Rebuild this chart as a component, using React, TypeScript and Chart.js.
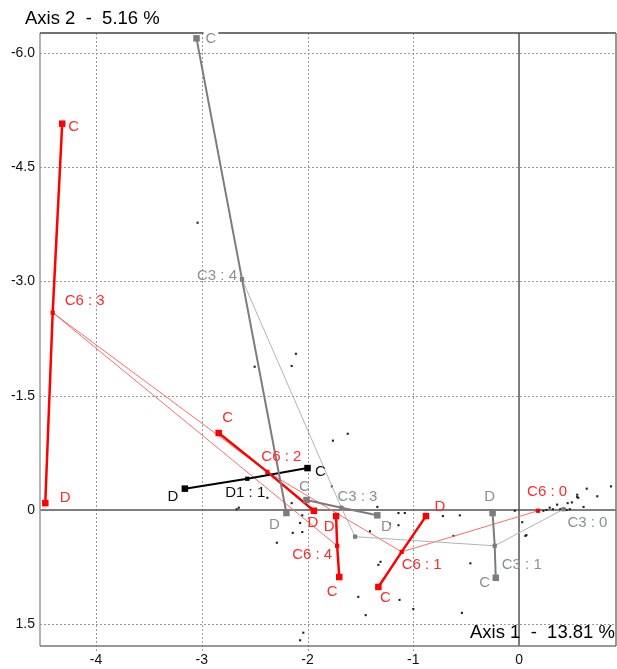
import React, { useEffect, useRef } from 'react';
import { Chart, registerables } from 'chart.js';

Chart.register(...registerables);

// ---------- axes ----------
const xTickValues = [-4, -3, -2, -1, 0];
const xTickLabels = ['-4', '-3', '-2', '-1', '0'];
const yTickValues = [-6, -4.5, -3, -1.5, 0, 1.5];
const yTickLabels = ['-6.0', '-4.5', '-3.0', '-1.5', '0', '1.5'];
const xMin = -4.53;
const xMax = 0.917;
const yMin = -6.26;
const yMax = 1.785;
const axis1Title = 'Axis 1  -  13.81 %';
const axis2Title = 'Axis 2  -  5.16 %';

// ---------- variable C3 ----------
const c3Categories = ['C3 : 0', 'C3 : 1', 'C3 : 2', 'C3 : 3', 'C3 : 4'];
const c3X = [0.42, -0.23, -1.55, -1.68, -2.62];
const c3Y = [-0.01, 0.47, 0.35, -0.03, -3.03];
const c3CX = [null, -0.22, null, -2.01, -3.05];
const c3CY = [null, 0.89, null, -0.13, -6.19];
const c3DX = [null, -0.25, null, -1.34, -2.2];
const c3DY = [null, 0.04, null, 0.07, 0.04];

// ---------- variable C6 ----------
const c6Categories = ['C6 : 0', 'C6 : 1', 'C6 : 2', 'C6 : 3', 'C6 : 4'];
const c6X = [0.18, -1.11, -2.38, -4.41, -1.72];
const c6Y = [0.01, 0.55, -0.5, -2.59, 0.47];
const c6CX = [null, -1.33, -2.84, -4.32, -1.7];
const c6CY = [null, 1.01, -1.01, -5.07, 0.88];
const c6DX = [null, -0.88, -1.94, -4.48, -1.73];
const c6DY = [null, 0.08, 0.01, -0.09, 0.08];

// ---------- variable D1 ----------
const d1Categories = ['D1 : 1'];
const d1X = [-2.57];
const d1Y = [-0.41];
const d1CX = [-2.0];
const d1CY = [-0.55];
const d1DX = [-3.16];
const d1DY = [-0.28];

const endLabelC = 'C';
const endLabelD = 'D';

// ---------- individuals ----------
const indX = [-1.62, -1.76, -1.77, -1.34, -1.14, -1.08, -1.22, -1.14, -1.41, -1.31, -1.33, -1.52, -1.13, -1.0, -1.45, -0.54, -0.46, -0.56, -0.72, -0.62, 0.07, 0.87, 0.74, 0.61, 0.55, -2.07, -2.04, -2.14, -2.07, -2.15, -2.29, -2.05, -2.05, -2.38, -2.67, -2.65, -3.04, -2.5, -2.15, -2.11, 0.64, 0.55, 0.56, 0.5, 0.46, 0.36, 0.29, 0.32, 0.39, 0.43, 0.26, 0.23, 0.45, 0.48, -0.04, 0.03, 0.06];
const indY = [-1.0, -0.91, -0.31, -0.04, 0.04, 0.04, 0.18, 0.2, 0.28, 0.68, 0.72, 1.14, 1.18, 1.3, 1.38, 1.35, 0.7, 0.07, 0.08, 0.34, 0.33, -0.31, -0.18, -0.04, -0.17, 1.71, 1.61, 0.3, 0.17, -0.09, 0.43, 0.29, 0.07, -0.16, -0.01, -0.03, -3.77, -1.88, -1.89, -2.05, -0.28, -0.2, -0.16, -0.1, -0.09, -0.07, -0.03, -0.01, -0.01, -0.01, 0.0, 0.01, 0.0, -0.01, 0.01, 0.16, 0.34];

// ---------- styles ----------
const RED = '#ff0000';
const RED_TEXT = '#ff2a2a';
const RED_THIN = '#ff6a6a';
const GRAY = '#7c7c7c';
const GRAY_TEXT = '#8a9099';
const GRAY_THIN = '#b3b3b3';
const BLACK = '#000000';
const FONT = '"Liberation Sans", Arial, sans-serif';

// label placement: [dx, dy, align]
const labelPlacement: Record<string, [number, number, CanvasTextAlign]> = {
  'C3 : 0': [4, 14, 'left'],
  'C3 : 1': [7, 19, 'left'],
  'C3 : 1|C': [-11, 5, 'center'],
  'C3 : 1|D': [-3, -16, 'center'],
  'C3 : 3': [-4, -11, 'left'],
  'C3 : 3|C': [-2, -13, 'center'],
  'C3 : 3|D': [9, 12, 'center'],
  'C3 : 4': [-5, -3, 'right'],
  'C3 : 4|C': [9, 1, 'left'],
  'C3 : 4|D': [-12, 12, 'center'],
  'C6 : 0': [9, -19, 'center'],
  'C6 : 1': [0, 13, 'left'],
  'C6 : 1|C': [7, 11, 'center'],
  'C6 : 1|D': [14, -9, 'center'],
  'C6 : 2': [-6, -15, 'left'],
  'C6 : 2|C': [9, -15, 'center'],
  'C6 : 2|D': [-1, 12, 'center'],
  'C6 : 3': [12, -12, 'left'],
  'C6 : 3|C': [6, 3, 'left'],
  'C6 : 3|D': [20, -5, 'center'],
  'C6 : 4': [-5, 9, 'right'],
  'C6 : 4|C': [-7, 15, 'center'],
  'C6 : 4|D': [-7, 11, 'center'],
  'D1 : 1': [-22, 14, 'left'],
  'D1 : 1|C': [13, 4, 'center'],
  'D1 : 1|D': [-12, 8, 'center'],
};
const hiddenLabels = new Set(['C3 : 2']);
const whiteBackedLabels = new Set(['C3 : 4|C']);

type LabelItem = { text: string; key: string; x: number; y: number; color: string };

function buildVariable(
  cats: string[], xs: number[], ys: number[],
  cx: (number | null)[], cy: (number | null)[], dx: (number | null)[], dy: (number | null)[],
  color: string, thin: string | null, textColor: string, width: number,
  datasets: any[], labels: LabelItem[]
) {
  if (thin) {
    datasets.push({
      data: xs.map((x, i) => ({ x, y: ys[i] })),
      showLine: true,
      borderColor: thin,
      borderWidth: 1,
      pointRadius: 0,
      order: 5,
    });
  }
  cats.forEach((cat, i) => {
    const pts: any[] = [];
    const radii: number[] = [];
    if (cx[i] !== null && cy[i] !== null) {
      pts.push({ x: cx[i], y: cy[i] });
      radii.push(4.6);
      labels.push({ text: endLabelC, key: cat + '|C', x: cx[i] as number, y: cy[i] as number, color: textColor });
    }
    pts.push({ x: xs[i], y: ys[i] });
    radii.push(3);
    if (!hiddenLabels.has(cat)) labels.push({ text: cat, key: cat, x: xs[i], y: ys[i], color: textColor });
    if (dx[i] !== null && dy[i] !== null) {
      pts.push({ x: dx[i], y: dy[i] });
      radii.push(4.6);
      labels.push({ text: endLabelD, key: cat + '|D', x: dx[i] as number, y: dy[i] as number, color: textColor });
    }
    datasets.push({
      data: pts,
      showLine: pts.length > 1,
      borderColor: color,
      backgroundColor: color,
      borderWidth: width,
      pointStyle: 'rect',
      pointRadius: radii,
      pointBorderWidth: 0,
      pointBackgroundColor: color,
      order: 1,
    });
  });
}

export default function App() {
  const canvasRef = useRef<HTMLCanvasElement | null>(null);

  useEffect(() => {
    if (!canvasRef.current) return;
    const datasets: any[] = [];
    const labels: LabelItem[] = [];

    datasets.push({
      data: indX.map((x, i) => ({ x, y: indY[i] })),
      pointStyle: 'rect',
      pointRadius: 1.5,
      pointBorderWidth: 0,
      pointBackgroundColor: '#222',
      showLine: false,
      order: 8,
    });

    buildVariable(c3Categories, c3X, c3Y, c3CX, c3CY, c3DX, c3DY, GRAY, GRAY_THIN, GRAY_TEXT, 2, datasets, labels);
    buildVariable(c6Categories, c6X, c6Y, c6CX, c6CY, c6DX, c6DY, RED, RED_THIN, RED_TEXT, 2.5, datasets, labels);
    buildVariable(d1Categories, d1X, d1Y, d1CX, d1CY, d1DX, d1DY, BLACK, null, '#111', 2, datasets, labels);

    const gridPlugin = {
      id: 'gridFrame',
      beforeDatasetsDraw(chart: any) {
        const { ctx, chartArea: a, scales } = chart;
        const xs = scales.x, ys = scales.y;
        ctx.save();
        ctx.lineWidth = 1;
        ctx.strokeStyle = '#9a9a9a';
        ctx.setLineDash([2, 2]);
        xTickValues.forEach((v) => {
          if (v === 0) return;
          const px = Math.round(xs.getPixelForValue(v)) + 0.5;
          ctx.beginPath();
          ctx.moveTo(px, a.top);
          ctx.lineTo(px, a.bottom + 5);
          ctx.stroke();
        });
        yTickValues.forEach((v) => {
          if (v === 0) return;
          const py = Math.round(ys.getPixelForValue(v)) + 0.5;
          ctx.beginPath();
          ctx.moveTo(a.left, py);
          ctx.lineTo(a.right, py);
          ctx.stroke();
        });
        ctx.setLineDash([]);
        // zero lines
        ctx.strokeStyle = '#555';
        ctx.lineWidth = 1.5;
        const x0 = xs.getPixelForValue(0);
        const y0 = ys.getPixelForValue(0);
        ctx.beginPath();
        ctx.moveTo(x0, a.top);
        ctx.lineTo(x0, a.bottom);
        ctx.moveTo(a.left, y0);
        ctx.lineTo(a.right, y0);
        ctx.stroke();
        // frame
        ctx.lineWidth = 1.5;
        ctx.strokeStyle = '#9a9a9a';
        ctx.beginPath();
        ctx.moveTo(a.left, a.top);
        ctx.lineTo(a.left, a.bottom);
        ctx.stroke();
        ctx.strokeStyle = '#444';
        ctx.beginPath();
        ctx.moveTo(a.left, a.top);
        ctx.lineTo(a.right, a.top);
        ctx.stroke();
        ctx.strokeStyle = '#777';
        ctx.beginPath();
        ctx.moveTo(a.left, a.bottom);
        ctx.lineTo(a.right, a.bottom);
        ctx.moveTo(a.right, a.top);
        ctx.lineTo(a.right, a.bottom);
        ctx.stroke();
        ctx.restore();
      },
      afterDatasetsDraw(chart: any) {
        const { ctx, scales, chartArea: a } = chart;
        ctx.save();
        ctx.font = '15px ' + FONT;
        ctx.textBaseline = 'middle';
        labels.forEach((l) => {
          const p = labelPlacement[l.key] || [6, -8, 'left'];
          const px = scales.x.getPixelForValue(l.x) + p[0];
          const py = scales.y.getPixelForValue(l.y) + p[1];
          ctx.textAlign = p[2];
          if (whiteBackedLabels.has(l.key)) {
            const w = ctx.measureText(l.text).width;
            const left = p[2] === 'left' ? px : p[2] === 'right' ? px - w : px - w / 2;
            ctx.fillStyle = '#fff';
            ctx.fillRect(left - 2, py - 9, w + 4, 18);
          }
          ctx.fillStyle = l.color;
          ctx.fillText(l.text, px, py);
        });
        ctx.font = '18.5px ' + FONT;
        ctx.fillStyle = '#000';
        ctx.textAlign = 'left';
        ctx.fillText(axis2Title, 25, 19);
        ctx.textAlign = 'right';
        ctx.fillText(axis1Title, a.right - 1, a.bottom - 13);
        ctx.restore();
      },
    };

    const chart = new Chart(canvasRef.current, {
      type: 'scatter',
      data: { datasets },
      options: {
        responsive: false,
        animation: false,
        devicePixelRatio: 1,
        layout: { autoPadding: false, padding: { top: 33, right: 1, left: 0, bottom: 0 } },
        plugins: { legend: { display: false }, tooltip: { enabled: false } },
        scales: {
          x: {
            type: 'linear',
            min: xMin,
            max: xMax,
            grid: { display: false, drawTicks: false },
            border: { display: false },
            afterBuildTicks: (scale: any) => {
              scale.ticks = xTickValues.map((v) => ({ value: v }));
            },
            afterFit: (scale: any) => {
              scale.height = 23;
              scale.paddingLeft = 0;
              scale.paddingRight = 0;
            },
            ticks: {
              autoSkip: false,
              maxRotation: 0,
              padding: 6,
              color: '#111',
              font: { size: 14, family: FONT },
              callback: (_v: any, i: number) => xTickLabels[i],
            },
          },
          y: {
            type: 'linear',
            reverse: true,
            min: yMin,
            max: yMax,
            grid: { display: false, drawTicks: false },
            border: { display: false },
            afterBuildTicks: (scale: any) => {
              scale.ticks = yTickValues.map((v) => ({ value: v }));
            },
            afterFit: (scale: any) => {
              scale.width = 40;
              scale.paddingTop = 0;
              scale.paddingBottom = 0;
            },
            ticks: {
              autoSkip: false,
              padding: 5,
              color: '#111',
              font: { size: 14, family: FONT },
              callback: (_v: any, i: number) => yTickLabels[i],
            },
          },
        },
      },
      plugins: [gridPlugin],
    });
    return () => chart.destroy();
  }, []);

  return (
    <div style={{ position: 'fixed', left: 0, top: 0, width: 617, height: 669, background: '#fff' }}>
      <canvas ref={canvasRef} width={617} height={669} style={{ display: 'block' }} />
    </div>
  );
}
